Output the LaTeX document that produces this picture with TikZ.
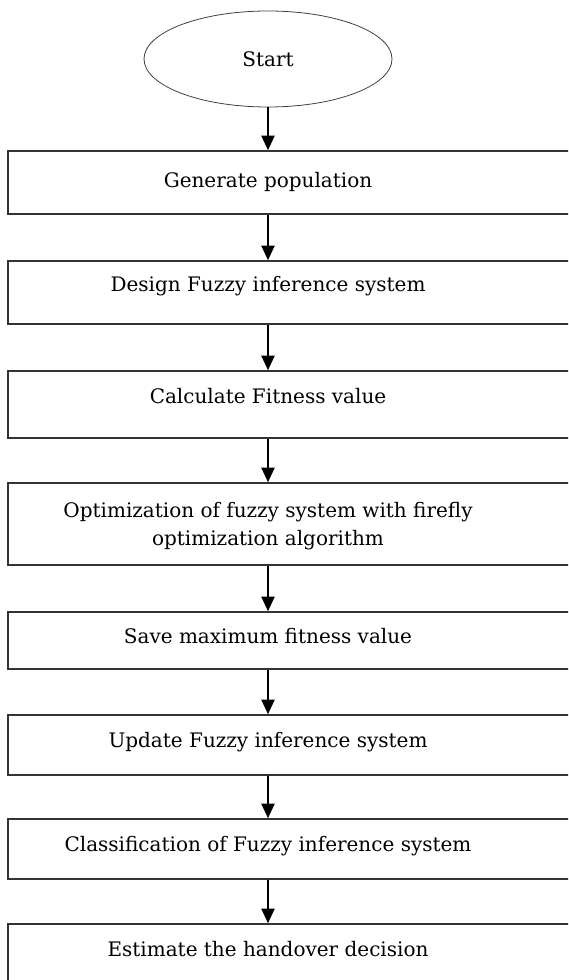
\documentclass[tikz,border=0pt]{standalone}
\usepackage{fontspec}
\setmainfont{DejaVu Serif}
\usepackage{tikz}
\usetikzlibrary{positioning}
\usetikzlibrary{shapes.geometric}
\usetikzlibrary{arrows.meta}

\tikzset{
  stepbox/.style={draw=black!80, line width=1.2pt, rectangle, inner sep=0pt,
    minimum width=459pt},
  steptext/.style={font=\fontsize{15}{21}\selectfont, align=center, inner sep=1pt},
  flow/.style={-{Triangle[length=11pt,width=10pt]}, line width=1.1pt}
}

\begin{document}
\begin{tikzpicture}[x=0.75pt, y=-0.75pt]
            % Page frame
            \useasboundingbox (0,0) rectangle (568,980);
            \clip (0,0) rectangle (568,980);

            % Start
            \node[ellipse, draw=black!75, line width=0.6pt, minimum width=186pt,
                  minimum height=72pt, font=\fontsize{15}{21}\selectfont] (start) at (268,59) {Start};

            % Boxes
            \node[stepbox, minimum height=47.25pt] (box1) at (314,182.5) {};
            \node[stepbox, minimum height=47.25pt] (box2) at (314,292.5) {};
            \node[stepbox, minimum height=50.25pt] (box3) at (314,404.5) {};
            \node[stepbox, minimum height=61.5pt] (box4) at (314,524) {};
            \node[stepbox, minimum height=42.75pt] (box5) at (314,640.5) {};
            \node[stepbox, minimum height=45pt] (box6) at (314,745) {};
            \node[stepbox, minimum height=45pt] (box7) at (314,849) {};
            \node[stepbox, minimum height=57pt] (box8) at (314,962) {};

            % Texts
            \node[steptext] (gen) at (268,182) {Generate population};
            \node[steptext] (design) at (268,286) {Design Fuzzy inference system};
            \node[steptext] (fitness) at (268,396) {Calculate Fitness value};
            \node[steptext] (optim) at (268,526) {Optimization of fuzzy system with firefly\\optimization algorithm};
            \node[steptext] (save) at (268,636) {Save maximum fitness value};
            \node[steptext] (update) at (268,742) {Update Fuzzy inference system};
            \node[steptext] (classify) at (268,846) {Classification of Fuzzy inference system};
            \node[steptext] (handover) at (268,949) {Estimate the handover decision};

            % Arrows
            \draw[flow] (start.south) -- (box1.north -| start);
            \draw[flow] (box1.south -| start) -- (box2.north -| start);
            \draw[flow] (box2.south -| start) -- (box3.north -| start);
            \draw[flow] (box3.south -| start) -- (box4.north -| start);
            \draw[flow] (box4.south -| start) -- (box5.north -| start);
            \draw[flow] (box5.south -| start) -- (box6.north -| start);
            \draw[flow] (box6.south -| start) -- (box7.north -| start);
            \draw[flow] (box7.south -| start) -- (box8.north -| start);
\end{tikzpicture}
\end{document}
